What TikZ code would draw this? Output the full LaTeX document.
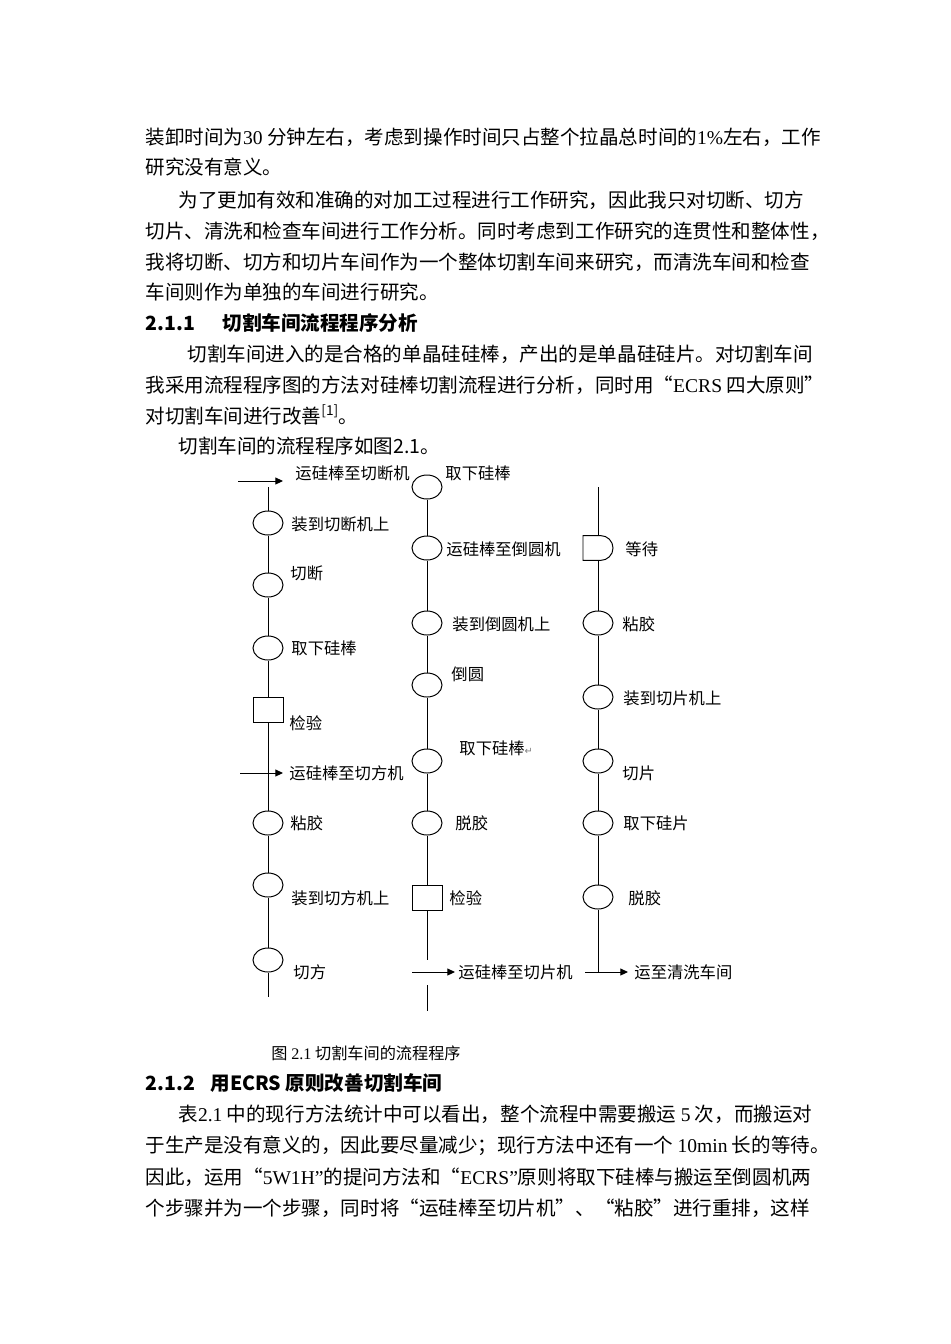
\documentclass[tikz,border=0pt]{standalone}
\usepackage{fontspec}
\setmainfont{Noto Sans CJK SC}
\newfontfamily\latfont{Liberation Serif}
\newfontfamily\symfont{DejaVu Sans}
\usetikzlibrary{arrows.meta,shapes.geometric,shapes.misc}

\tikzset{
  txt/.style={anchor=west, inner sep=0pt, font=\fontsize{13.9}{16}\selectfont},
  head/.style={anchor=west, inner sep=0pt, font=\fontsize{13.9}{16}\selectfont\bfseries},
  lbl/.style={anchor=west, inner sep=0pt, font=\fontsize{11.6}{14}\selectfont},
  captxt/.style={anchor=west, inner sep=0pt, font=\fontsize{11.5}{13}\selectfont},
  op/.style={draw, ellipse, fill=white, minimum width=0.75cm, minimum height=0.6cm, inner sep=0pt},
  chk/.style={draw, rectangle, fill=white, minimum width=0.75cm, minimum height=0.62cm, inner sep=0pt},
  hold/.style={draw, rounded rectangle, rounded rectangle west arc=none, fill=white,
    minimum width=0.75cm, minimum height=0.62cm, inner sep=0pt},
  flow/.style={-{Triangle[length=5.5pt,width=5pt]}},
}

\begin{document}
\begin{tikzpicture}[x=0.025cm, y=-0.025cm, line width=0.7pt]

    % Page area
    \fill[white] (0,0) rectangle (950,1344);
    \useasboundingbox (0,0) rectangle (950,1344);

    % Text above the chart
    \node[txt] (p1) at (145,137) {装卸时间为{\latfont 30} 分钟左右，考虑到操作时间只占整个拉晶总时间的{\latfont 1\%}左右，工作};
    \node[txt] (p2) at (145,167) {研究没有意义。};
    \node[txt] (p3) at (178,200) {为了更加有效和准确的对加工过程进行工作研究，因此我只对切断、切方};
    \node[txt] (p4) at (145,231) {切片、清洗和检查车间进行工作分析。同时考虑到工作研究的连贯性和整体性，};
    \node[txt] (p5) at (145,262) {我将切断、切方和切片车间作为一个整体切割车间来研究，而清洗车间和检查};
    \node[txt] (p6) at (145,292) {车间则作为单独的车间进行研究。};
    \node[head] (h1) at (145,323) {2.1.1};
    \node[head] (h1t) at (222,323) {切割车间流程程序分析};
    \node[txt] (q1) at (187,354) {切割车间进入的是合格的单晶硅硅棒，产出的是单晶硅硅片。对切割车间};
    \node[txt] (q2) at (145,385) {我采用流程程序图的方法对硅棒切割流程进行分析，同时用“{\latfont ECRS} 四大原则”};
    \node[txt] (q3) at (145,415) {对切割车间进行改善\textsuperscript{[1]}。};
    \node[txt] (q4) at (178,446) {切割车间的流程程序如图2.1。};

    % Column 1
    \coordinate (c1t) at (268,487);
    \coordinate (c1b) at (268,997);
    \node[op]  (a1) at (268,523) {};
    \node[op]  (a2) at (268,585) {};
    \node[op]  (a3) at (268,648) {};
    \node[chk] (a4) at (268,710) {};
    \node[op]  (a5) at (268,823) {};
    \node[op]  (a6) at (268,885) {};
    \node[op]  (a7) at (268,960) {};
    \draw (c1t) -- (a1) -- (a2) -- (a3) -- (a4) -- (a5) -- (a6) -- (a7) -- (c1b);

    \coordinate (s1) at (238,481);
    \coordinate (e1) at (283,481);
    \draw[flow] (s1) -- (e1);
    \coordinate (s2) at (240,773);
    \coordinate (e2) at (283,773);
    \draw[flow] (s2) -- (e2);

    \node[lbl] (la0) at (295,473) {运硅棒至切断机};
    \node[lbl] (la1) at (291,524) {装到切断机上};
    \node[lbl] (la2) at (290,573) {切断};
    \node[lbl] (la3) at (291,648) {取下硅棒};
    \node[lbl] (la4) at (289,723) {检验};
    \node[lbl] (lam) at (289,773) {运硅棒至切方机};
    \node[lbl] (la5) at (290,823) {粘胶};
    \node[lbl] (la6) at (291,898) {装到切方机上};
    \node[lbl] (la7) at (293,972) {切方};

    % Column 2
    \node[op]  (b1) at (427,487) {};
    \node[op]  (b2) at (427,548) {};
    \node[op]  (b3) at (427,623) {};
    \node[op]  (b4) at (427,685) {};
    \node[op]  (b5) at (427,761) {};
    \node[op]  (b6) at (427,823) {};
    \node[chk] (b7) at (427,898) {};
    \coordinate (c2b) at (427,960);
    \draw (b1) -- (b2) -- (b3) -- (b4) -- (b5) -- (b6) -- (b7) -- (c2b);
    \coordinate (c2g) at (427,985);
    \coordinate (c2e) at (427,1011);
    \draw (c2g) -- (c2e);

    \coordinate (s3) at (412,972);
    \coordinate (e3) at (455,972);
    \draw[flow] (s3) -- (e3);

    \node[lbl] (lb1) at (445,473) {取下硅棒};
    \node[lbl] (lb2) at (446,549) {运硅棒至倒圆机};
    \node[lbl] (lb3) at (452,624) {装到倒圆机上};
    \node[lbl] (lb4) at (451,674) {倒圆};
    \node[lbl] (lb5) at (459,748) {取下硅棒{\symfont\fontsize{7}{7}\selectfont\color{gray}↵}};
    \node[lbl] (lb6) at (455,823) {脱胶};
    \node[lbl] (lb7) at (449,898) {检验};
    \node[lbl] (lbm) at (458,972) {运硅棒至切片机};

    % Column 3
    \coordinate (c3t) at (598,487);
    \node[hold] (d0) at (598,548) {};
    \node[op]  (d1) at (598,623) {};
    \node[op]  (d2) at (598,697) {};
    \node[op]  (d3) at (598,761) {};
    \node[op]  (d4) at (598,823) {};
    \node[op]  (d5) at (598,897) {};
    \coordinate (c3b) at (598,972);
    \draw (c3t) -- (d0) -- (d1) -- (d2) -- (d3) -- (d4) -- (d5) -- (c3b);

    \coordinate (s4) at (585,972);
    \coordinate (e4) at (628,972);
    \draw[flow] (s4) -- (e4);

    \node[lbl] (ld0) at (625,549) {等待};
    \node[lbl] (ld1) at (622,624) {粘胶};
    \node[lbl] (ld2) at (623,698) {装到切片机上};
    \node[lbl] (ld3) at (622,773) {切片};
    \node[lbl] (ld4) at (623,823) {取下硅片};
    \node[lbl] (ld5) at (628,898) {脱胶};
    \node[lbl] (ldm) at (634,972) {运至清洗车间};

    % Caption
    \node[captxt] (fig) at (271,1053) {图 {\latfont 2.1} 切割车间的流程程序};

    % Text below the chart
    \node[head] (h2) at (145,1083) {2.1.2};
    \node[head] (h2t) at (210,1083) {用ECRS 原则改善切割车间};
    \node[txt] (r1) at (178,1114) {表{\latfont 2.1} 中的现行方法统计中可以看出，整个流程中需要搬运 {\latfont 5} 次，而搬运对};
    \node[txt] (r2) at (145,1146) {于生产是没有意义的，因此要尽量减少；现行方法中还有一个 {\latfont 10min} 长的等待。};
    \node[txt] (r3) at (145,1177) {因此，运用“{\latfont 5W1H”}的提问方法和“{\latfont ECRS”}原则将取下硅棒与搬运至倒圆机两};
    \node[txt] (r4) at (145,1208) {个步骤并为一个步骤，同时将“运硅棒至切片机”、“粘胶”进行重排，这样};

\end{tikzpicture}
\end{document}
